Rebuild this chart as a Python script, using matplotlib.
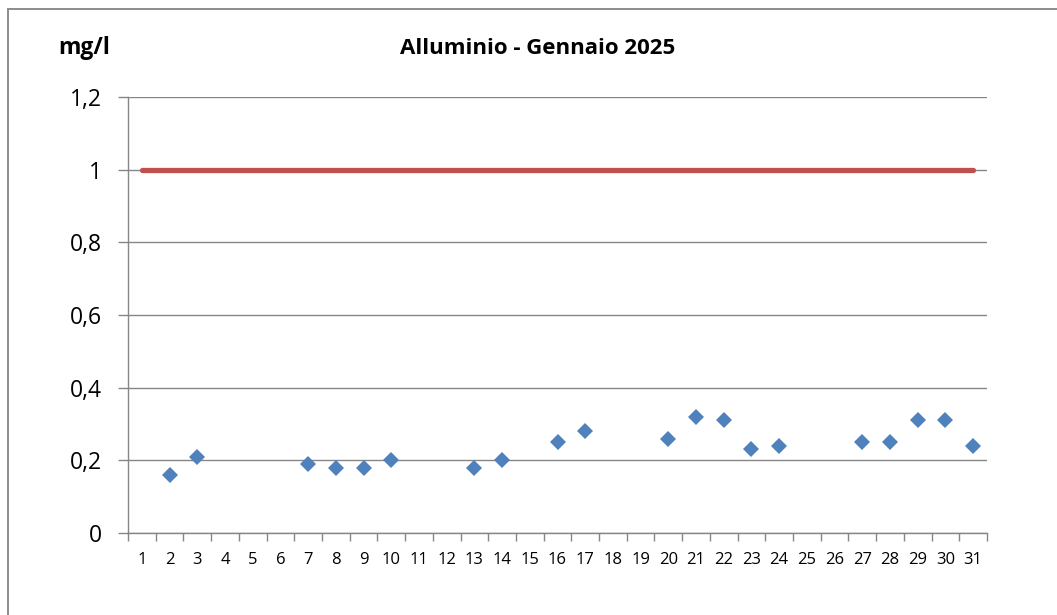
import numpy as np
import matplotlib
matplotlib.use("Agg")
import matplotlib.pyplot as plt
from matplotlib.patches import Rectangle
from matplotlib.ticker import FixedLocator, FuncFormatter

# ---- data ----
days = list(range(1, 32))
alluminio = [np.nan, 0.16, 0.21, np.nan, np.nan, np.nan, 0.19, 0.18, 0.18, 0.20,
             np.nan, np.nan, 0.18, 0.20, np.nan, 0.25, 0.28, np.nan, np.nan, 0.26,
             0.32, 0.31, 0.23, 0.24, np.nan, np.nan, 0.25, 0.25, 0.31, 0.31, 0.24]
limite = [1.0] * 31
y_ticks = [0, 0.2, 0.4, 0.6, 0.8, 1.0, 1.2]
title = "Alluminio - Gennaio 2025"
unit = "mg/l"

plt.rcParams['font.family'] = ['Open Sans', 'DejaVu Sans']

W, H = 1057, 615
fig = plt.figure(figsize=(W / 100, H / 100), dpi=100)
ax = fig.add_axes([128 / W, 1 - 533 / H, (987 - 128) / W, (533 - 97) / H])

grid_c = '#868686'
ax.set_ylim(0, 1.2)
ax.set_xlim(0.5, 31.5)
ax.set_yticks(y_ticks)
ax.yaxis.set_major_formatter(FuncFormatter(lambda v, p: ('%g' % round(v, 1)).replace('.', ',')))
ax.yaxis.grid(True, color=grid_c, linewidth=1.0)
ax.set_axisbelow(True)

ax.xaxis.set_major_locator(FixedLocator([d - 0.5 for d in days] + [31.5]))
ax.xaxis.set_major_formatter(FuncFormatter(lambda v, p: ''))
ax.xaxis.set_minor_locator(FixedLocator(days))
ax.xaxis.set_minor_formatter(FuncFormatter(lambda v, p: '%d' % round(v)))
ax.tick_params(axis='x', which='major', length=6, width=1, color=grid_c, direction='out')
ax.tick_params(axis='x', which='minor', length=0, pad=14, labelsize=12)
ax.tick_params(axis='y', length=7, width=1, color=grid_c, direction='out', pad=12, labelsize=16.5)

for s in ['top', 'right']:
    ax.spines[s].set_visible(False)
for s in ['left', 'bottom']:
    ax.spines[s].set_color(grid_c)
    ax.spines[s].set_linewidth(1.0)

ax.plot(days, limite, color='#C0504D', linewidth=3.8, solid_capstyle='round', zorder=3)
ax.plot(days, alluminio, linestyle='none', marker='D', markersize=8.2,
        markerfacecolor='#4F81BD', markeredgewidth=0, zorder=4)

fig.text(538 / W, 1 - 48 / H, title, ha='center', va='center', fontsize=16, fontweight='bold')
fig.text(84 / W, 1 - 48 / H, unit, ha='center', va='center', fontsize=16.5, fontweight='bold')

fig.patches.append(Rectangle((8 / W, -0.1), 1.2, 1.1 - 9 / H, transform=fig.transFigure,
                             fill=False, edgecolor='#8C8C8C', linewidth=1.4))

fig.savefig('out.png', dpi=100)
